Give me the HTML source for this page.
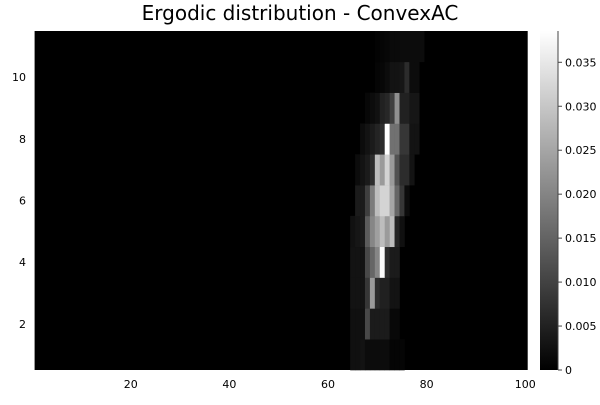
<!DOCTYPE html>
<html><head><meta charset="utf-8"><style>
body{margin:0;background:#fff;font-family:"Liberation Sans","DejaVu Sans",sans-serif}
svg text{font-family:"DejaVu Sans","Liberation Sans",sans-serif}
</style></head><body>
<svg id="c" width="600" height="400">
<defs><linearGradient id="g" x1="0" y1="1" x2="0" y2="0"><stop offset="0" stop-color="#000"/><stop offset="1" stop-color="#fff"/></linearGradient></defs>
<text x="300" y="20" font-size="20" text-anchor="middle">Ergodic distribution - ConvexAC</text>
</svg>
<script>
const xCount = 100;
const yCount = 11;
const startCol = 65;
const rows = [
 [3.8,3.8,4.5,3,3,3,3,3,1.5,1.5,1.5],
 [3.8,3.8,3.8,13.5,6,6,6,6,2.2,2.2],
 [4.5,4.5,4.5,10.5,25.5,9,6.8,6.8,4.5,4.5],
 [4.5,4.5,4.5,13.5,18,22.5,38,9,6,6],
 [4,5,6,16.5,22.5,26,30,25.5,30,7.5,3.8],
 [0,6,6,12,21,30,33,33,27,18,10.5,3],
 [0,3,4.5,6,9,30,25.5,33,25.5,15,9,9,4.5],
 [0,0,3,4.5,6,7.5,9,38.5,19.5,19.5,10.5,10.5,4.5,4.5],
 [0,0,0,2,3,4,7,8,12,24,7,7,5,5],
 [0,0,0,0,0,1.5,2,3,4.5,4.5,5,9,3,3],
 [0,0,0,0,0,1,1.5,2,2.5,2.5,3,3,3,3,3]
];
const xTicks = [20,40,60,80,100];
const yTicks = [2,4,6,8,10];
const cTicks = [0,0.005,0.010,0.015,0.020,0.025,0.030,0.035];
const cTickLabels = ["0","0.005","0.010","0.015","0.020","0.025","0.030","0.035"];
const vmax = 0.03856;

const L=34.6,R=527.7,T=31,B=370;
const sx=v=>L+(v-0.5)/xCount*(R-L);
const sy=v=>B-(v-0.5)/yCount*(B-T);
const cy=v=>B-v/vmax*(B-T);
const svg=document.getElementById('c');
const NS='http://www.w3.org/2000/svg';
function mk(t,a){const e=document.createElementNS(NS,t);for(const k in a)e.setAttribute(k,a[k]);svg.appendChild(e);return e;}
const bg=mk('rect',{x:L,y:T,width:R-L,height:B-T,fill:'#000'});


rows.forEach((r,yi)=>{r.forEach((v,k)=>{if(!v)return;const val=v/1000;const x=startCol+k,y=yi+1;
 const g=Math.round(Math.pow(Math.min(1,val/vmax),1.2)*255);
 const c=mk('rect',{x:sx(x-0.5),y:sy(y+0.5),width:sx(x+0.5)-sx(x-0.5)+0.3,height:sy(y-0.5)-sy(y+0.5)+0.3,fill:`rgb(${g},${g},${g})`});
 
 
});});
xTicks.forEach(t=>{const e=mk('text',{x:sx(t),y:388,'font-size':11,'text-anchor':'middle',fill:'#000'});e.textContent=t;
 
 });
yTicks.forEach(t=>{const e=mk('text',{x:26,y:sy(t)+4,'font-size':11,'text-anchor':'end',fill:'#000'});e.textContent=t;
 
 });
const cb=mk('rect',{x:540,y:T,width:18,height:B-T,fill:'url(#g)'});


const ax=mk('line',{x1:558,y1:T,x2:558,y2:B,stroke:'#444','stroke-width':1});


cTicks.forEach((t,i)=>{mk('line',{x1:558,x2:562,y1:cy(t),y2:cy(t),stroke:'#444'});
 const e=mk('text',{x:565,y:cy(t)+4,'font-size':11,fill:'#000'});e.textContent=cTickLabels[i];
 
 });
</script>
</body></html>
